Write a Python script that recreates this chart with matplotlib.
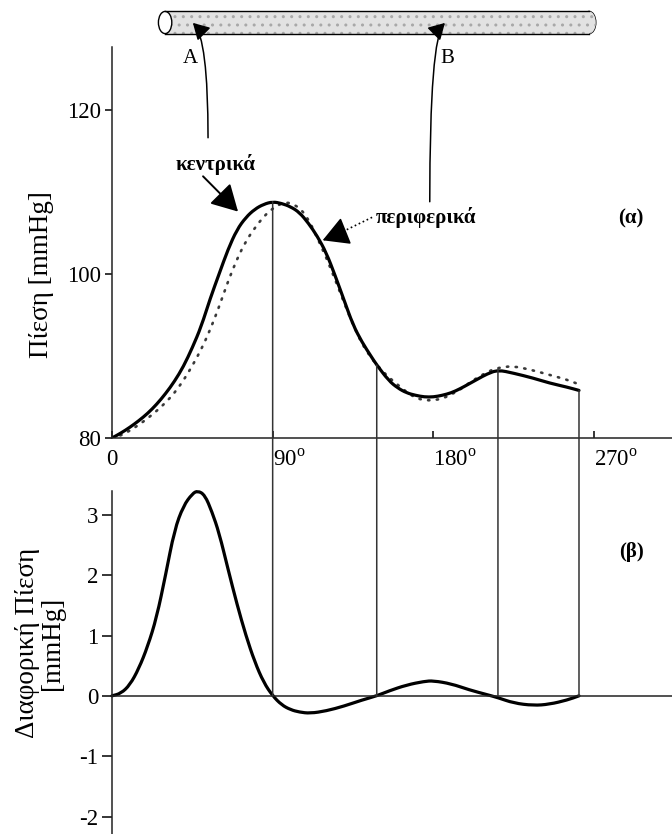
import numpy as np
import matplotlib
matplotlib.use("Agg")
import matplotlib.pyplot as plt
from matplotlib.path import Path
from matplotlib.patches import PathPatch, Rectangle, Ellipse, ConnectionPatch

plt.rcParams['font.family'] = ['Liberation Serif', 'DejaVu Serif']
plt.rcParams['mathtext.fontset'] = 'custom'
plt.rcParams['mathtext.rm'] = 'Liberation Serif'

# pressure at the central site (solid) vs phase angle, degrees / mmHg
central_deg = [0, 5, 10, 15, 20, 25, 30, 35, 40, 45, 50, 55, 60, 65, 70, 75, 80, 85, 90,
               95, 100, 105, 110, 115, 120, 125, 130, 135, 140, 145, 148.3, 155, 160, 165,
               170, 175, 180, 185, 190, 195, 200, 205, 210, 216.2, 225, 236, 245, 255, 261.6]
central_p = [80.0, 80.6, 81.3, 82.1, 83.0, 84.1, 85.4, 86.9, 88.7, 91.0, 93.6, 97.0, 100.0,
             103.0, 105.4, 106.9, 107.9, 108.5, 108.8, 108.6, 108.2, 107.5, 106.2, 104.6,
             102.6, 99.8, 96.8, 93.8, 91.7, 90.0, 88.9, 87.0, 86.1, 85.5, 85.2, 85.0, 85.0,
             85.2, 85.5, 86.0, 86.6, 87.2, 87.8, 88.3, 87.9, 87.3, 86.7, 86.2, 85.8]

# pressure at the peripheral site (dotted)
periph_deg = [0, 5, 10, 15, 20, 25, 30, 35, 40, 45, 50, 55, 60, 65, 70, 75, 80, 85, 90, 95,
              98, 100, 105, 110, 115, 120, 125, 130, 135, 140, 145, 150, 155, 160, 165, 170,
              175, 180, 185, 190, 195, 200, 205, 210, 215, 224, 235, 245, 255, 262]
periph_p = [80.0, 80.3, 80.9, 81.6, 82.4, 83.3, 84.3, 85.5, 87.0, 88.8, 90.8, 93.2, 96.0,
            99.1, 101.8, 104.0, 105.6, 107.0, 108.0, 108.6, 108.7, 108.6, 108.1, 106.7,
            104.4, 102.0, 99.3, 96.5, 93.8, 91.5, 89.8, 88.5, 87.4, 86.5, 85.6, 84.9, 84.6,
            84.6, 84.8, 85.3, 85.9, 86.7, 87.4, 88.0, 88.5, 88.8, 88.3, 87.7, 87.1, 86.5]

# differential pressure, mmHg
diff_deg = [0, 5, 10, 15, 20, 25, 30, 35, 40, 45, 48, 52, 56, 60, 65, 70, 75, 80, 85, 90,
            95, 100, 105, 111, 120, 130, 140, 148.3, 155, 165, 175, 180, 190, 200, 210,
            216.2, 225, 236, 245, 255, 261.6]
diff_p = [0.0, 0.04, 0.18, 0.45, 0.82, 1.3, 2.0, 2.75, 3.15, 3.35, 3.4, 3.33, 3.05, 2.7,
          2.1, 1.52, 1.0, 0.56, 0.22, 0.0, -0.15, -0.23, -0.27, -0.29, -0.25, -0.17, -0.07,
          0.0, 0.08, 0.18, 0.24, 0.25, 0.2, 0.1, 0.02, -0.03, -0.12, -0.16, -0.14, -0.07, 0.0]

sync_deg = [90, 148.3, 216.2, 261.6]

top_yticks = [80, 100, 120]
top_xticks = [0, 90, 180, 270]
bottom_yticks = [-2, -1, 0, 1, 2, 3]


def smooth_path(xs, ys):
    # quadratic pieces through the midpoints, ends pinned to the first/last sample
    pts = np.column_stack([xs, ys])
    verts = [pts[0], (pts[0] + pts[1]) / 2]
    codes = [Path.MOVETO, Path.LINETO]
    for i in range(1, len(pts) - 1):
        verts += [pts[i], (pts[i] + pts[i + 1]) / 2]
        codes += [Path.CURVE3, Path.CURVE3]
    verts.append(pts[-1])
    codes.append(Path.LINETO)
    return Path(verts, codes)


fig = plt.figure(figsize=(6.72, 8.34), dpi=100)
W, H = 672.0, 834.0

ax1 = fig.add_axes([112 / W, 1 - 438 / H, 1 - 112 / W, (438 - 46.7) / H])
ax2 = fig.add_axes([112 / W, 0, 1 - 112 / W, (H - 490.7) / H])
xmax = 313.7

for ax in (ax1, ax2):
    ax.set_xlim(0, xmax)
    ax.patch.set_alpha(0)
    for s in ('top', 'right'):
        ax.spines[s].set_visible(False)
    for s in ('left', 'bottom'):
        ax.spines[s].set_linewidth(1.1)
        ax.spines[s].set_color('#222222')

# --- (a) pressure curves
ax1.set_ylim(80, 127.7)
ax1.set_yticks(top_yticks)
ax1.set_yticklabels([str(v) for v in top_yticks])
ax1.tick_params(axis='y', direction='out', length=5, width=1.1, pad=3, labelsize=16.5)
ax1.set_xticks(top_xticks)
ax1.set_xticklabels(['0'] + [str(v) + r'$^{\mathrm{o}}$' for v in top_xticks[1:]])
ax1.tick_params(axis='x', direction='in', length=5, width=1.1, pad=8, labelsize=16.5)
for lab in ax1.get_xticklabels()[1:]:
    lab.set_horizontalalignment('left')

ax1.add_patch(PathPatch(smooth_path(periph_deg, periph_p), fill=False, lw=1.9,
                        ls=(0, (0.5, 2.8)), color='#3a3a3a', capstyle='round'))
ax1.add_patch(PathPatch(smooth_path(central_deg, central_p), fill=False, lw=2.3,
                        color='black', capstyle='round'))

# --- (b) differential pressure
ax2.set_ylim(-2.29, 3.4)
ax2.spines['bottom'].set_position(('data', 0))
ax2.set_xticks([])
ax2.set_yticks(bottom_yticks)
ax2.set_yticklabels([str(v) for v in bottom_yticks])
ax2.tick_params(axis='y', direction='out', length=7, width=1.1, pad=3, labelsize=16.5)
ax2.add_patch(PathPatch(smooth_path(diff_deg, diff_p), fill=False, lw=2.3,
                        color='black', capstyle='round', clip_on=False))

# vertical guide lines joining the two panels
for d in sync_deg:
    ytop = np.interp(d, central_deg, central_p)
    con = ConnectionPatch(xyA=(d, ytop), coordsA=ax1.transData,
                          xyB=(d, 0), coordsB=ax2.transData,
                          color='#333333', lw=1.1, zorder=1)
    fig.add_artist(con)

# --- tube with the two measuring points
tube_left, tube_right = 26.0, 271.0
tube_lo, tube_hi = 129.3, 132.0
tube_mid = (tube_lo + tube_hi) / 2
cap_w = 7.5
body = dict(facecolor='#e2e2e2', edgecolor='#a8a8a8', hatch='..', lw=0)
ax1.add_patch(Ellipse((tube_right - cap_w / 2, tube_mid), cap_w, tube_hi - tube_lo,
                      facecolor='#e2e2e2', edgecolor='black', lw=1.0, clip_on=False))
ax1.add_patch(Ellipse((tube_right - cap_w / 2, tube_mid), cap_w, tube_hi - tube_lo,
                      clip_on=False, **body))
ax1.add_patch(Rectangle((tube_left + cap_w / 2, tube_lo), tube_right - tube_left - cap_w,
                        tube_hi - tube_lo, clip_on=False, **body))
ax1.plot([tube_left + cap_w / 2, tube_right - cap_w / 2], [tube_hi, tube_hi],
         color='black', lw=1.0, clip_on=False)
ax1.plot([tube_left + cap_w / 2, tube_right - cap_w / 2], [tube_lo, tube_lo],
         color='black', lw=1.0, clip_on=False)
ax1.add_patch(Ellipse((tube_left + cap_w / 2, tube_mid), cap_w, tube_hi - tube_lo,
                      facecolor='white', edgecolor='black', lw=1.0, clip_on=False))

site_deg = {'A': 53.8, 'B': 178.0}
site_bottom = {'A': 116.6, 'B': 108.8}
for name, side in (('A', -1), ('B', 1)):
    x = site_deg[name]
    ax1.annotate('', xy=(x + side * 8.5, 130.6), xytext=(x, site_bottom[name]),
                 annotation_clip=False,
                 arrowprops=dict(arrowstyle='-|>,head_length=0.7,head_width=0.4',
                                 mutation_scale=14, lw=1.1, color='black',
                                 shrinkA=0, shrinkB=0,
                                 connectionstyle='angle3,angleA=90,angleB=%d'
                                 % (135 if side < 0 else 45)))
    ax1.text(x - 9.8 if side < 0 else x + 10, 126.3, name, fontsize=15,
             ha='center', va='center')

# curve labels
ax1.text(58.3, 113.3, 'κεντρικά', fontsize=15, fontweight='bold', ha='center', va='center')
ax1.annotate('', xy=(70.6, 107.6), xytext=(51.0, 111.9),
             arrowprops=dict(arrowstyle='-|>,head_length=0.9,head_width=0.5',
                             mutation_scale=18, lw=1.4, color='black',
                             shrinkA=0, shrinkB=0))
ax1.text(147.5, 106.9, 'περιφερικά', fontsize=15, fontweight='bold', ha='left', va='center')
ax1.plot([145.7, 124.0], [106.9, 104.6], ls=':', lw=1.2, color='black')
ax1.annotate('', xy=(118.0, 104.1), xytext=(126.0, 104.8),
             arrowprops=dict(arrowstyle='-|>,head_length=0.9,head_width=0.5',
                             mutation_scale=18, lw=1.2, color='black',
                             shrinkA=0, shrinkB=0))

fig.text(631 / W, 1 - 218 / H, '(α)', fontsize=15, fontweight='bold', ha='center', va='center')
fig.text(632 / W, 1 - 552 / H, '(β)', fontsize=15, fontweight='bold', ha='center', va='center')

# axis titles
fig.text(42 / W, 1 - 275 / H, 'Πίεση [mmHg]', fontsize=19.5, rotation=90,
         ha='center', va='center')
fig.text(40 / W, 1 - 643 / H, 'Διαφορική Πίεση\n[mmHg]', fontsize=19.5, rotation=90,
         ha='center', va='center', multialignment='center', linespacing=1.0)

fig.savefig('out.png', dpi=100)
